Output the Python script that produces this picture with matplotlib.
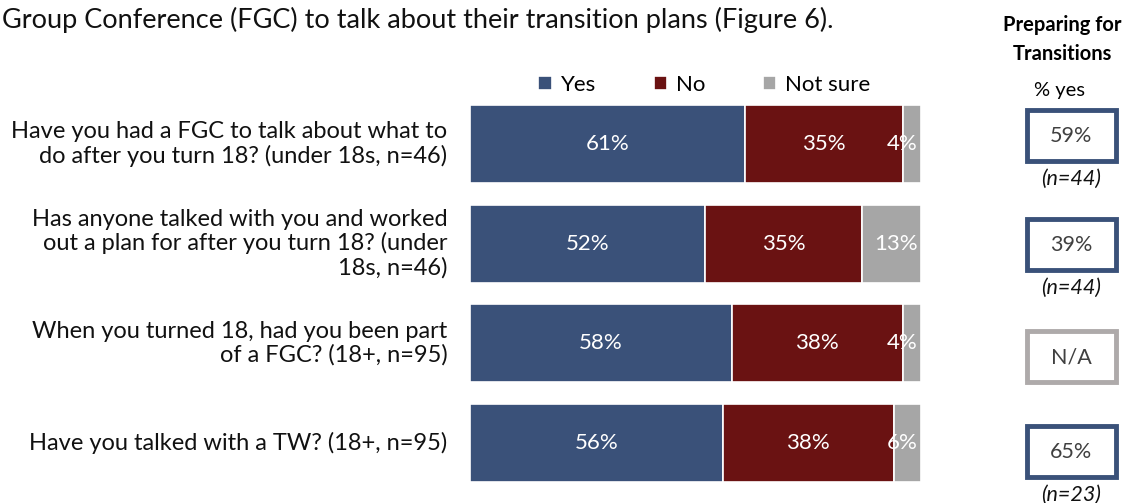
import numpy as np
import matplotlib.pyplot as plt
from matplotlib.patches import Rectangle

plt.rcParams['font.family'] = ['Lato', 'DejaVu Sans']

questions = ["Have you had a FGC to talk about what to\ndo after you turn 18? (under 18s, n=46)",
             "Has anyone talked with you and worked\nout a plan for after you turn 18? (under\n18s, n=46)",
             "When you turned 18, had you been part\nof a FGC? (18+, n=95)",
             "Have you talked with a TW? (18+, n=95)"]
yes = [61, 52, 58, 56]
no = [35, 35, 38, 38]
not_sure = [4, 13, 4, 6]
prep_yes = ["59%", "39%", "N/A", "65%"]
prep_n = ["(n=44)", "(n=44)", "", "(n=23)"]

c_yes = '#3A5179'
c_no = '#6A1212'
c_ns = '#A6A6A6'

W, H = 1141, 503
fig = plt.figure(figsize=(W/100, H/100), dpi=100)

# page overlay in pixel coords
bg = fig.add_axes([0, 0, 1, 1])
bg.set_xlim(0, W)
bg.set_ylim(H, 0)
bg.axis('off')

bg.text(2, 20, "Group Conference (FGC) to talk about their transition plans (Figure 6).",
        fontsize=19.5, va='center', ha='left', color='#111111')

# bars
ax = fig.add_axes([470/W, 1 - 493/H, (921-470)/W, 399/H])
y = np.arange(len(questions))
ax.barh(y, yes, height=0.78, color=c_yes, edgecolor='white', linewidth=1.2, label='Yes')
ax.barh(y, no, left=yes, height=0.78, color=c_no, edgecolor='white', linewidth=1.2, label='No')
left2 = np.array(yes) + np.array(no)
ax.barh(y, not_sure, left=left2, height=0.78, color=c_ns, edgecolor='white', linewidth=1.2, label='Not sure')
ax.set_xlim(0, 100)
ax.set_ylim(3.5, -0.5)
ax.axis('off')
for i in range(len(questions)):
    ax.text(yes[i]/2, i, f"{yes[i]}%", color='white', ha='center', va='center', fontsize=16)
    ax.text(yes[i] + no[i]/2, i, f"{no[i]}%", color='white', ha='center', va='center', fontsize=16)
    ax.text(99.2, i, f"{not_sure[i]}%", color='white', ha='right', va='center', fontsize=16)
    ax.text(-0.05, i, questions[i], transform=ax.get_yaxis_transform(), ha='right', va='center',
            fontsize=17, color='#111111', linespacing=1.15, multialignment='right')

ax.legend(loc='lower center', bbox_to_anchor=(0.52, 0.97), ncol=3, frameon=False, fontsize=16,
          handlelength=0.6, handleheight=0.6, handletextpad=0.4, columnspacing=2.6, borderaxespad=0.1)

# preparing for transitions column
bg.text(1062, 25, "Preparing for", fontsize=14.5, fontweight='bold', ha='center', va='center')
bg.text(1062, 54, "Transitions", fontsize=14.5, fontweight='bold', ha='center', va='center')
bg.text(1060, 90, "% yes", fontsize=14.5, ha='center', va='center')
box_tops = [110, 219, 331, 426]
for i, top in enumerate(box_tops):
    na = prep_yes[i] == "N/A"
    ec = '#AEAAAA' if na else c_yes
    bg.add_patch(Rectangle((1027, top), 89, 51, facecolor='white', edgecolor=ec, linewidth=3.5))
    bg.text(1071, top + 26, prep_yes[i], fontsize=15.5, ha='center', va='center', color='#404040')
    if prep_n[i]:
        bg.text(1071, top + 69, prep_n[i], fontsize=15.5, style='italic', ha='center', va='center',
                color='#111111')

fig.savefig('out.png', dpi=100)
